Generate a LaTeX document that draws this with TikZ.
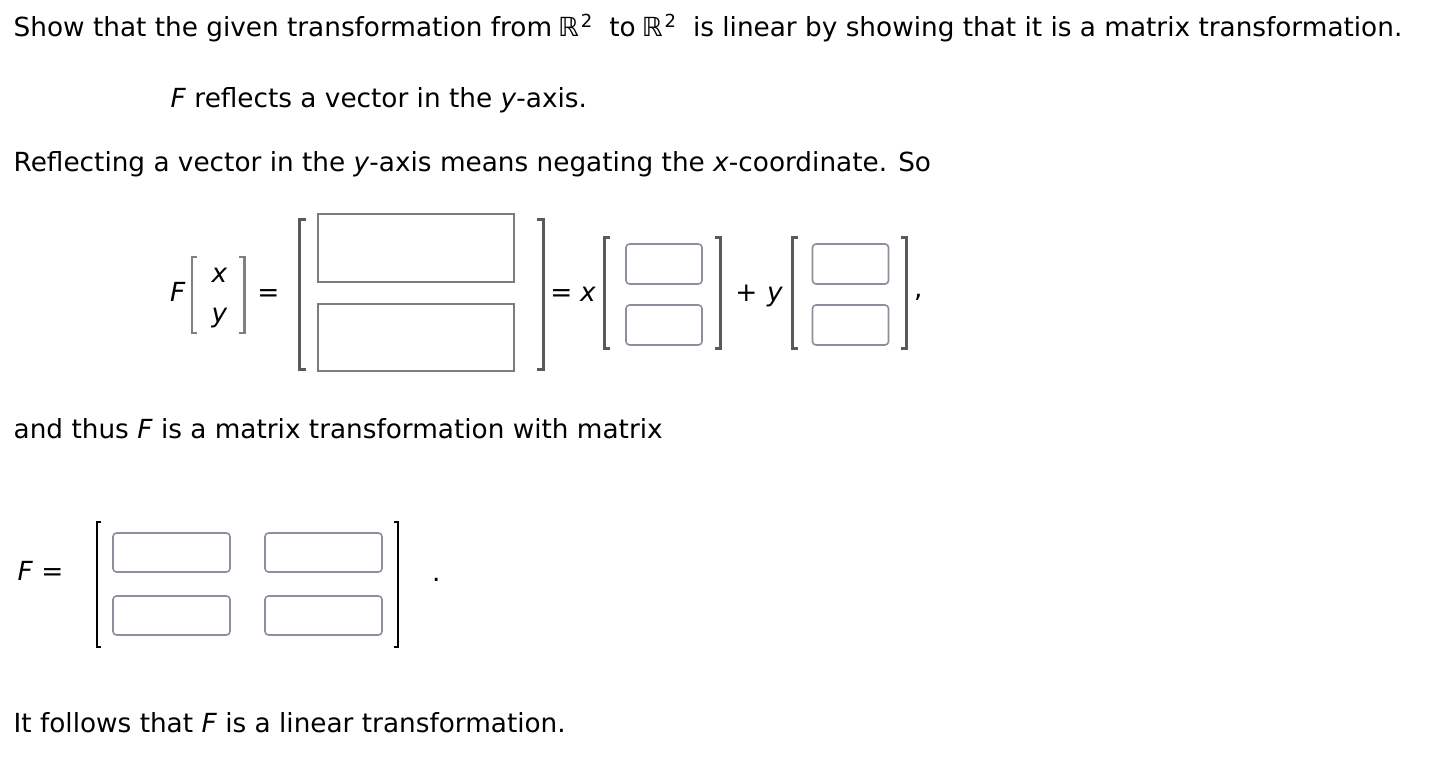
\documentclass[tikz,border=0pt]{standalone}
\usepackage{fontspec}
\setmainfont{DejaVu Sans}
\definecolor{grisborde}{HTML}{8E8E9C}
\definecolor{griscaja}{HTML}{7C7C7C}
\definecolor{griscorchete}{HTML}{5A5A5A}
\newcommand{\erre}{\hspace{6pt}ℝ\hspace{2pt}\raisebox{9.5pt}{\fontsize{18}{18}\selectfont 2}\hspace{17pt}}
\begin{document}
\begin{tikzpicture}[x=1pt, y=-1pt,
    texto/.style={anchor=base west, inner sep=0pt, font=\fontsize{26.3}{31}\selectfont},
    signo/.style={anchor=base, inner sep=0pt, font=\fontsize{26.3}{31}\selectfont},
    caja/.style={draw=grisborde, line width=1.6pt, rounded corners=3.5pt,
        minimum width=76pt, minimum height=40pt, inner sep=0pt},
    cajaF/.style={caja, minimum width=117pt, minimum height=39pt},
    cajagrande/.style={draw=griscaja, line width=2pt,
        minimum width=196pt, minimum height=68pt, inner sep=0pt},
    corchete/.style={draw=griscorchete, line width=3pt},
    corchetechico/.style={draw=gray, line width=2.2pt},
    corcheteF/.style={draw=black, line width=2pt}]
    \useasboundingbox[fill=white] (0,0) rectangle (1438,759);

    % Texto
    \node[texto] (linea1) at (13.5,37) {Show that the given transformation from\erre to\erre is linear by showing that it is a matrix transformation.};
    \node[texto] (linea2) at (170.5,108) {\textit{F} reflects a vector in the \textit{y}-axis.};
    \node[texto] (linea3) at (13.5,172) {Reflecting a vector in the \textit{y}-axis means negating the \textit{x}-coordinate. So};
    \node[texto] (linea4) at (13.5,438) {and thus \textit{F} is a matrix transformation with matrix};
    \node[texto] (linea5) at (13.5,732) {It follows that \textit{F} is a linear transformation.};

    % F [x ; y] =
    \node[texto] (F) at (170,302) {\textit{F}};
    \draw[corchetechico] (197,257) -- (192,257) -- (192,333) -- (197,333); % [
    \node[signo] (vx) at (219.5,283) {\textit{x}};
    \node[signo] (vy) at (219.5,323) {\textit{y}};
    \draw[corchetechico] (239,257) -- (244.5,257) -- (244.5,333) -- (239,333); % ]
    \node[signo] (igual1) at (268.5,302) {=};

    % Vector con cajas grandes
    \draw[corchete] (306,220) -- (299.5,220) -- (299.5,369) -- (306,369); % [
    \node[cajagrande] (ga) at (416,248) {};
    \node[cajagrande, minimum height=67pt] (gb) at (416,337.5) {};
    \draw[corchete] (537,220) -- (543.5,220) -- (543.5,369) -- (537,369); % ]

    % = x [ ] + y [ ],
    \node[signo] (igual2) at (561.5,302) {=};
    \node[texto] (cx) at (580,302) {\textit{x}};
    \draw[corchete] (610,238) -- (604.5,238) -- (604.5,349) -- (610,349); % [
    \draw[corchete] (715,238) -- (720.5,238) -- (720.5,349) -- (715,349); % ]
    \node[signo] (mas) at (746.5,302) {+};
    \node[texto] (cy) at (767,302) {\textit{y}};
    \draw[corchete] (798,238) -- (792.5,238) -- (792.5,349) -- (798,349); % [
    \draw[corchete] (901,238) -- (906.5,238) -- (906.5,349) -- (901,349); % ]
    \node[texto] (coma) at (914,298) {,};
    \foreach \cx/\n in {664/x, 850.5/y} {
        \node[caja] (\n a) at (\cx,264) {};
        \node[caja] (\n b) at (\cx,325) {};
    }

    % F = [ matriz ]
    \node[texto] (F2) at (17.5,580) {\textit{F} =};
    \draw[corcheteF] (101,522) -- (97,522) -- (97,647) -- (101,647); % [
    \draw[corcheteF] (394,522) -- (398,522) -- (398,647) -- (394,647); % ]
    \foreach \cx/\c in {171.5/1, 323.5/2}
        \foreach \cy/\f in {552.5/1, 615.5/2}
            \node[cajaF] (m\f\c) at (\cx,\cy) {};
    \node[texto] (punto) at (432,581) {.};
\end{tikzpicture}
\end{document}
